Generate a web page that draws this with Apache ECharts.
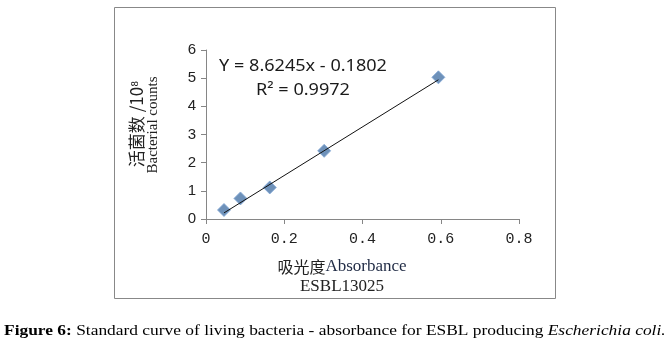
<!DOCTYPE html>
<html>
<head>
<meta charset="utf-8">
<script src="https://cdn.jsdelivr.net/npm/echarts@6/dist/echarts.min.js"></script>
<style>
html,body{margin:0;padding:0;background:#fff;}
#c{width:669px;height:355px;}
</style>
</head>
<body>
<div id="c"></div>
<script>
var absorbance = [0.046, 0.088, 0.163, 0.302, 0.594];
var bacterialCounts = [0.32, 0.73, 1.12, 2.42, 5.03];
var trendSlope = 8.6245;
var trendIntercept = -0.1802;
var xTicks = [0, 0.2, 0.4, 0.6, 0.8];
var yTicks = [0, 1, 2, 3, 4, 5, 6];
var equationText = 'Y = 8.6245x - 0.1802';
var r2Text = 'R² = 0.9972';

var points = absorbance.map(function (x, i) { return [x, bacterialCounts[i]]; });
var xMin = Math.min.apply(null, absorbance), xMax = Math.max.apply(null, absorbance);
var trend = [[xMin, trendSlope * xMin + trendIntercept], [xMax, trendSlope * xMax + trendIntercept]];

var chart = echarts.init(document.getElementById('c'), null, {renderer: 'canvas'});
chart.setOption({
  animation: false,
  backgroundColor: '#fff',
  grid: {left: 206, right: 150, top: 50, bottom: 136},
  xAxis: {
    type: 'value', min: xTicks[0], max: xTicks[xTicks.length - 1], interval: 0.2,
    splitLine: {show: false},
    axisLine: {onZero: false, lineStyle: {color: '#868686', width: 1}},
    axisTick: {show: true, length: 5, lineStyle: {color: '#868686'}},
    axisLabel: {color: '#222', fontFamily: 'Liberation Mono', fontSize: 15, margin: 13,
      formatter: function (v) { return v === 0 ? '0' : v.toFixed(1); }}
  },
  yAxis: {
    type: 'value', min: yTicks[0], max: yTicks[yTicks.length - 1], interval: 1,
    splitLine: {show: false},
    axisLine: {show: true, lineStyle: {color: '#868686', width: 1}},
    axisTick: {show: true, length: 5, lineStyle: {color: '#868686'}},
    axisLabel: {color: '#222', fontFamily: 'Liberation Sans', fontSize: 15, margin: 10}
  },
  series: [
    {
      type: 'scatter', data: points, symbol: 'diamond', symbolSize: 13, z: 2,
      itemStyle: {color: '#4A76A8', borderColor: '#7FA6D6', borderWidth: 1}
    },
    {
      type: 'line', data: trend, symbol: 'none', z: 3,
      lineStyle: {color: '#111', width: 1}
    }
  ],
  graphic: [
    {type: 'rect', shape: {x: 114.5, y: 7.5, width: 441, height: 291}, style: {fill: 'none', stroke: '#888', lineWidth: 1}, silent: true},
    {type: 'text', x: 303, y: 66, scaleX: 1.13, style: {text: equationText, fontFamily: 'Noto Sans', fontSize: 16, fill: '#1a1a1a', textAlign: 'center', textVerticalAlign: 'middle'}},
    {type: 'text', x: 303, y: 90, scaleX: 1.13, style: {text: r2Text, fontFamily: 'Noto Sans', fontSize: 16, fill: '#1a1a1a', textAlign: 'center', textVerticalAlign: 'middle'}},
    {type: 'text', x: 137, y: 124, rotation: Math.PI / 2, style: {text: '活菌数 /10⁸', fontFamily: 'Noto Sans CJK SC', fontSize: 17, fill: '#222', textAlign: 'center', textVerticalAlign: 'middle'}},
    {type: 'text', x: 153, y: 125, rotation: Math.PI / 2, style: {text: 'Bacterial counts', fontFamily: 'Liberation Serif', fontSize: 15, fill: '#222', textAlign: 'center', textVerticalAlign: 'middle'}},
    {type: 'text', x: 342, y: 267, style: {
      text: '{c|吸光度}{e|Absorbance}', textAlign: 'center', textVerticalAlign: 'middle',
      rich: {c: {fontFamily: 'Noto Sans CJK SC', fontSize: 16, fill: '#222'}, e: {fontFamily: 'Liberation Serif', fontSize: 17, fill: '#1f2a44'}}
    }},
    {type: 'text', x: 342, y: 287, style: {text: 'ESBL13025', fontFamily: 'Liberation Serif', fontSize: 17, fill: '#222', textAlign: 'center', textVerticalAlign: 'middle'}},
    {type: 'text', x: 4, y: 331, scaleX: 1.16, style: {
      text: '{b|Figure 6:}{n| Standard curve of living bacteria - absorbance for ESBL producing }{i|Escherichia coli.}',
      textAlign: 'left', textVerticalAlign: 'middle',
      rich: {
        b: {fontFamily: 'Liberation Serif', fontSize: 15, fontWeight: 'bold', fill: '#000'},
        n: {fontFamily: 'Liberation Serif', fontSize: 15, fill: '#000'},
        i: {fontFamily: 'Liberation Serif', fontSize: 15, fontStyle: 'italic', fill: '#000'}
      }
    }}
  ]
});
</script>
</body>
</html>
